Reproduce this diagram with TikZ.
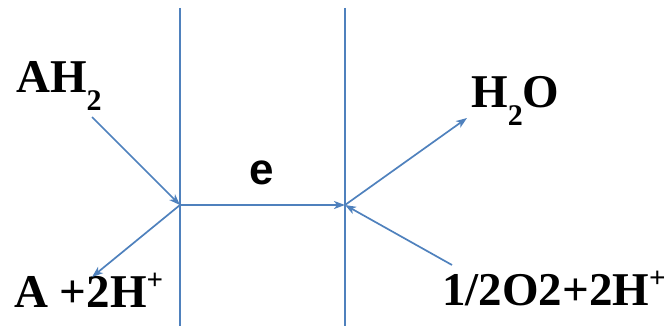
\documentclass[tikz,border=0pt]{standalone}
\usepackage{fontspec}
\setmainfont{Liberation Serif}
\newfontfamily\arialbold{Liberation Sans}
\usetikzlibrary{arrows.meta}
\definecolor{linblue}{RGB}{79,129,189}
\newcommand{\lowtwo}{\raisebox{-0.37em}{\fontsize{30}{30}\selectfont 2}}
\newcommand{\highplus}{\raisebox{0.38em}{\fontsize{29}{29}\selectfont +}}

\begin{document}
\begin{tikzpicture}[x=1pt,y=-1pt,
  lab/.style={inner sep=0pt,anchor=base west,font=\fontsize{47}{50}\selectfont\bfseries},
  memb/.style={linblue,line width=1.8pt},
  flow/.style={linblue,line width=1.7pt,-{Stealth[length=11pt,width=8pt,inset=3pt]}}]
\useasboundingbox (0,0) rectangle (671,326);

% membranes
\coordinate (jl) at (180,205);
\coordinate (jr) at (345,205);
\draw[memb] (180,8) -- (180,326);
\draw[memb] (345,8) -- (345,326);

% labels
\node[lab] (ah) at (16,93) {AH\lowtwo};
\node[lab] (a) at (14,307) {A +2H\highplus};
\node[lab] (wat) at (471,108) {H\lowtwo O};
\node[lab] (oxy) at (442,305) {1/2O2+2H\highplus};
\node[inner sep=0pt,font=\arialbold\fontsize{44}{48}\selectfont\bfseries] (e) at (262,173) {e};

\coordinate (ahend) at (92,117);
\coordinate (aend) at (92,277);
\coordinate (watend) at (467,118);
\coordinate (oxyend) at (452,265);

% electron flow
\draw[flow] (ahend) -- (jl);
\draw[flow] (jl) -- (aend);
\draw[flow] (jl) -- (jr);
\draw[flow] (jr) -- (watend);
\draw[flow] (oxyend) -- (jr);

\end{tikzpicture}
\end{document}
